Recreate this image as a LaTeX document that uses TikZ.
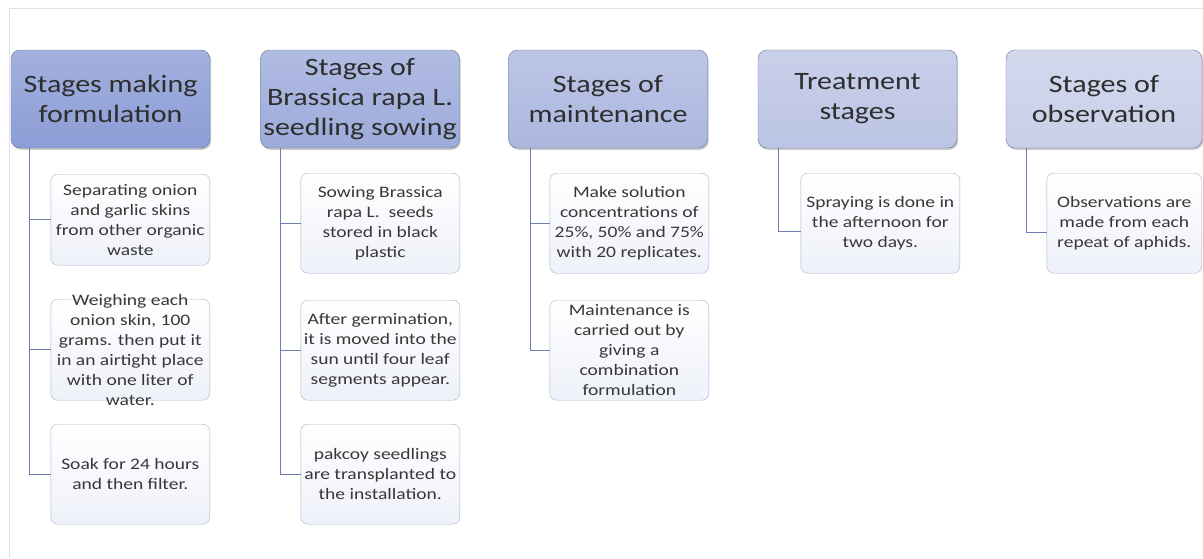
\documentclass[tikz,border=0pt]{standalone}
\usepackage{fontspec}
\setmainfont{Carlito}
\newfontfamily\widefont[FakeStretch=1.22]{Carlito}
\newfontfamily\headfont[FakeStretch=1.2]{Carlito}
\usetikzlibrary{positioning,shadows}
\definecolor{hdA}{RGB}{140,157,214}
\definecolor{hdB}{RGB}{157,171,219}
\definecolor{hdC}{RGB}{172,183,223}
\definecolor{hdD}{RGB}{187,196,228}
\definecolor{hdE}{RGB}{200,207,232}
\definecolor{hdline}{RGB}{105,118,150}
\definecolor{taskline}{RGB}{165,176,206}
\definecolor{taskfill}{RGB}{238,241,249}
\definecolor{branchline}{RGB}{110,124,176}
\definecolor{framegray}{RGB}{222,224,233}
\begin{document}
\begin{tikzpicture}[x=1pt,y=-1pt,
  stage/.style={draw=hdline,rounded corners=9pt,minimum width=199pt,minimum height=98pt,
    align=center,inner sep=1pt,font=\headfont\fontsize{25}{30}\selectfont,text=black!82,
    top color=#1!80!white,bottom color=#1,
    drop shadow={shadow xshift=1.2pt,shadow yshift=-1.8pt,opacity=0.35,fill=black!60}},
  task/.style={draw=taskline,rounded corners=7pt,minimum width=159pt,minimum height=100pt,
    align=center,inner sep=1pt,font=\widefont\fontsize{16}{20}\selectfont,text=black!78,
    top color=white,bottom color=taskfill},
  branch/.style={draw=branchline,line width=1.3pt}]
\useasboundingbox (0,0) rectangle (1203,558);
% outer frame
\draw[framegray,line width=0.8pt] (9,558) -- (9,8) -- (1203,8);
% stage headers
\node[stage=hdA] (h1) at (110.5,99) {Stages making\\formulation};
\node[stage=hdB] (h2) at (360,99) {Stages of\\Brassica rapa L.\\seedling sowing};
\node[stage=hdC] (h3) at (608,99) {Stages of\\maintenance};
\node[stage=hdD] (h4) at (857.5,99) {Treatment\\stages};
\node[stage=hdE,minimum width=196pt] (h5) at (1104,99) {Stages of\\observation};
% formulation tasks
\node[task,anchor=north east,minimum height=91pt] (c11) at (210,174)
  {Separating onion\\and garlic skins\\from other organic\\waste};
\node[task,anchor=north east,minimum height=101pt,inner ysep=-7pt] (c12) at (210,299)
  {Weighing each\\onion skin, 100\\grams. then put it\\in an airtight place\\with one liter of\\water.};
\node[task,anchor=north east] (c13) at (210,424)
  {Soak for 24 hours\\and then filter.};
% sowing tasks
\node[task,anchor=north east] (c21) at (460,173)
  {Sowing Brassica\\rapa L.~ seeds\\stored in black\\plastic};
\node[task,anchor=north east] (c22) at (460,300)
  {After germination,\\it is moved into the\\sun until four leaf\\segments appear.};
\node[task,anchor=north east] (c23) at (460,424)
  {pakcoy seedlings\\are transplanted to\\the installation.};
% maintenance tasks
\node[task,anchor=north east] (c31) at (709,173)
  {Make solution\\concentrations of\\25\%, 50\% and 75\%\\with 20 replicates.};
\node[task,anchor=north east] (c32) at (709,300)
  {Maintenance is\\carried out by\\giving a\\combination\\formulation};
% treatment and observation
\node[task,anchor=north east] (c41) at (960,173)
  {Spraying is done in\\the afternoon for\\two days.};
\node[task,anchor=north east,minimum width=155pt] (c51) at (1202,173)
  {Observations are\\made from each\\repeat of aphids.};
% branches
\foreach \t in {c11,c12,c13}
  \draw[branch] ([xshift=19pt]h1.south west) |- (\t.west);
\foreach \t in {c21,c22,c23}
  \draw[branch] ([xshift=20pt]h2.south west) |- (\t.west);
\foreach \t in {c31,c32}
  \draw[branch] ([xshift=22pt]h3.south west) |- (\t.west);
\draw[branch] ([xshift=21pt]h4.south west) |- ([yshift=-8pt]c41.west);
\draw[branch] ([xshift=21pt]h5.south west) |- ([yshift=-9pt]c51.west);
\end{tikzpicture}
\end{document}
